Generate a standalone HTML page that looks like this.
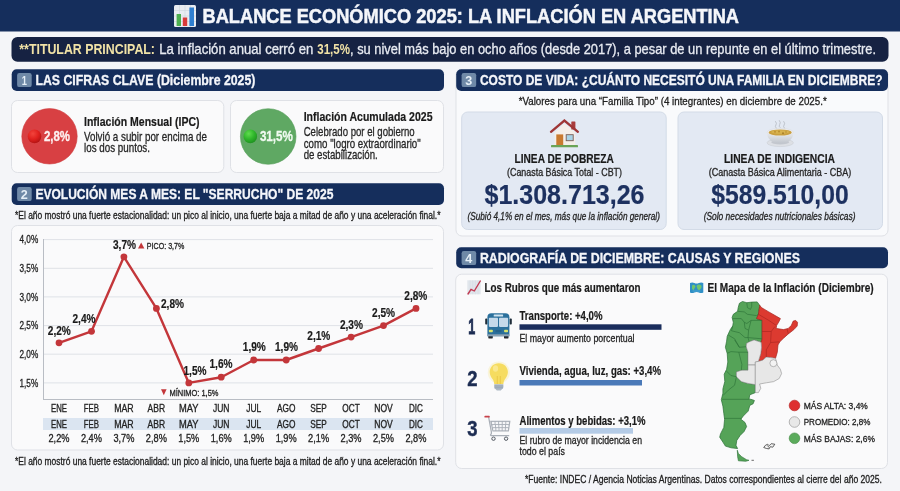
<!DOCTYPE html>
<html lang="es"><head><meta charset="utf-8"><title>Balance Económico 2025: La inflación en Argentina</title>
<style>
html,body{margin:0;padding:0;background:#f4f5f8;}
body{width:900px;height:491px;overflow:hidden;}
svg{display:block;font-family:"Liberation Sans", sans-serif;}
text{font-kerning:normal;}
</style></head><body>
<svg width="900" height="491" viewBox="0 0 900 491">
<rect x="0" y="0" width="900" height="491" fill="#f4f5f8"/>
<rect x="0" y="0" width="900" height="31.5" fill="#152e5c"/>
<g><rect x="174" y="5" width="22" height="22" rx="1.5" fill="#e9edf2"/><path d="M174 10.5h22M174 16h22M174 21.5h22M179.5 5v22M185 5v22M190.5 5v22" stroke="#cfd6de" stroke-width="0.6" fill="none"/><rect x="176.6" y="14" width="4.4" height="12" fill="#4caf50"/><rect x="182.8" y="17.5" width="4.4" height="8.5" fill="#d93a3a"/><rect x="189.4" y="7.5" width="4.6" height="18.5" fill="#2f7fd0"/></g>
<text x="202.5" y="22.8" font-size="20.2" font-weight="bold" fill="#f4f6fa" text-anchor="start" stroke="#f4f6fa" stroke-width="0.5" textLength="536.5" lengthAdjust="spacingAndGlyphs">BALANCE ECONÓMICO 2025: LA INFLACIÓN EN ARGENTINA</text>
<rect x="11.5" y="37" width="877" height="24.7" rx="6" fill="#162242"/>
<text x="19.3" y="54" font-size="14.5" font-weight="bold" fill="#f1e2a6" text-anchor="start" textLength="135.7" lengthAdjust="spacingAndGlyphs">**TITULAR PRINCIPAL:</text>
<text x="159.3" y="54" font-size="14.5" font-weight="normal" fill="#e8ebf2" text-anchor="start" stroke="#e8ebf2" stroke-width=".3" textLength="154" lengthAdjust="spacingAndGlyphs">La inflación anual cerró en</text>
<text x="317.3" y="54" font-size="14.5" font-weight="bold" fill="#f1e2a6" text-anchor="start" textLength="32.7" lengthAdjust="spacingAndGlyphs">31,5%</text>
<text x="350" y="54" font-size="14.5" font-weight="normal" fill="#e8ebf2" text-anchor="start" stroke="#e8ebf2" stroke-width=".3" textLength="526" lengthAdjust="spacingAndGlyphs">, su nivel más bajo en ocho años (desde 2017), a pesar de un repunte en el último trimestre.</text>
<rect x="11.7" y="69.3" width="432.3" height="21.6" rx="5" fill="#152e5c"/>
<rect x="17.1" y="73.1" width="14.6" height="14" rx="2.2" fill="#6f89a7"/>
<text x="24.299999999999997" y="85.0" font-size="12.6" font-weight="bold" fill="#e6eff7" text-anchor="middle" textLength="5.2" lengthAdjust="spacingAndGlyphs">1</text>
<text x="35.4" y="85.3" font-size="14.2" font-weight="bold" fill="#f4f6fa" text-anchor="start" stroke="#f4f6fa" stroke-width="0.3" textLength="220" lengthAdjust="spacingAndGlyphs">LAS CIFRAS CLAVE (Diciembre 2025)</text>
<rect x="11.5" y="100.5" width="212.3" height="72" rx="6" fill="#fafafb" stroke="#dfe1e6" stroke-width="1"/>
<rect x="230.5" y="100.5" width="213" height="72" rx="6" fill="#fafafb" stroke="#dfe1e6" stroke-width="1"/>
<defs><radialGradient id="rb" cx=".38" cy=".3" r=".75"><stop offset="0" stop-color="#f2443c"/><stop offset=".55" stop-color="#e0211e"/><stop offset="1" stop-color="#b01212"/></radialGradient><radialGradient id="gb" cx=".38" cy=".3" r=".75"><stop offset="0" stop-color="#5fdc4e"/><stop offset=".55" stop-color="#2fb62b"/><stop offset="1" stop-color="#1d8f1f"/></radialGradient></defs>
<circle cx="49.500" cy="136.300" r="27.700" fill="#d84043" stroke="#cf3a3d" stroke-width=".6"/>
<circle cx="34.500" cy="136.400" r="6.800" fill="url(#rb)"/>
<text x="43.9" y="140.8" font-size="13.8" font-weight="bold" fill="#fdf0f0" text-anchor="start" textLength="26.1" lengthAdjust="spacingAndGlyphs" stroke="#fdf0f0" stroke-width=".3">2,8%</text>
<text x="84" y="125.5" font-size="13" font-weight="bold" fill="#1a1a1a" text-anchor="start" stroke="#1a1a1a" stroke-width=".2" textLength="115.5" lengthAdjust="spacingAndGlyphs">Inflación Mensual (IPC)</text>
<text x="84" y="140.5" font-size="12.8" font-weight="normal" fill="#262626" text-anchor="start" stroke="#262626" stroke-width=".3" textLength="123" lengthAdjust="spacingAndGlyphs">Volvió a subir por encima de</text>
<text x="84" y="152.4" font-size="12.8" font-weight="normal" fill="#262626" text-anchor="start" stroke="#262626" stroke-width=".3" textLength="66" lengthAdjust="spacingAndGlyphs">los dos puntos.</text>
<circle cx="268.200" cy="136.500" r="27.800" fill="#5fa863" stroke="#579e5b" stroke-width=".6"/>
<circle cx="250.300" cy="136.400" r="6.800" fill="url(#gb)"/>
<text x="259.9" y="140.8" font-size="13.8" font-weight="bold" fill="#f0faf0" text-anchor="start" textLength="33" lengthAdjust="spacingAndGlyphs" stroke="#f0faf0" stroke-width=".3">31,5%</text>
<text x="303.7" y="120.5" font-size="13" font-weight="bold" fill="#1a1a1a" text-anchor="start" stroke="#1a1a1a" stroke-width=".2" textLength="128.8" lengthAdjust="spacingAndGlyphs">Inflación Acumulada 2025</text>
<text x="303.7" y="135.5" font-size="12.8" font-weight="normal" fill="#262626" text-anchor="start" stroke="#262626" stroke-width=".3" textLength="111" lengthAdjust="spacingAndGlyphs">Celebrado por el gobierno</text>
<text x="303.7" y="147.5" font-size="12.8" font-weight="normal" fill="#262626" text-anchor="start" stroke="#262626" stroke-width=".3" textLength="117" lengthAdjust="spacingAndGlyphs">como "logro extraordinario"</text>
<text x="303.7" y="159" font-size="12.8" font-weight="normal" fill="#262626" text-anchor="start" stroke="#262626" stroke-width=".3" textLength="74" lengthAdjust="spacingAndGlyphs">de estabilización.</text>
<rect x="11.7" y="183.3" width="432.3" height="21.7" rx="5" fill="#152e5c"/>
<rect x="17.1" y="187.1" width="14.6" height="14" rx="2.2" fill="#6f89a7"/>
<text x="24.299999999999997" y="199.0" font-size="12.6" font-weight="bold" fill="#e6eff7" text-anchor="middle" textLength="7" lengthAdjust="spacingAndGlyphs">2</text>
<text x="35.4" y="199.3" font-size="14.2" font-weight="bold" fill="#f4f6fa" text-anchor="start" stroke="#f4f6fa" stroke-width="0.3" textLength="298" lengthAdjust="spacingAndGlyphs">EVOLUCIÓN MES A MES: EL "SERRUCHO" DE 2025</text>
<text x="15" y="219" font-size="10.4" font-weight="normal" fill="#202020" text-anchor="start" stroke="#202020" stroke-width=".3" textLength="425.5" lengthAdjust="spacingAndGlyphs">*El año mostró una fuerte estacionalidad: un pico al inicio, una fuerte baja a mitad de año y una aceleración final.*</text>
<rect x="11.5" y="225.5" width="432" height="224.5" rx="6" fill="#fafafb" stroke="#dfe1e6" stroke-width="1"/>
<line x1="43" y1="239.6" x2="433" y2="239.6" stroke="#dfe2e7" stroke-width="1"/>
<text x="19.5" y="243.34999999999997" font-size="10.4" font-weight="normal" fill="#222" text-anchor="start" stroke="#222" stroke-width=".3" textLength="18.7" lengthAdjust="spacingAndGlyphs">4,0%</text>
<line x1="43" y1="268.3" x2="433" y2="268.3" stroke="#dfe2e7" stroke-width="1"/>
<text x="19.5" y="271.99999999999994" font-size="10.4" font-weight="normal" fill="#222" text-anchor="start" stroke="#222" stroke-width=".3" textLength="18.7" lengthAdjust="spacingAndGlyphs">3,5%</text>
<line x1="43" y1="296.9" x2="433" y2="296.9" stroke="#dfe2e7" stroke-width="1"/>
<text x="19.5" y="300.65" font-size="10.4" font-weight="normal" fill="#222" text-anchor="start" stroke="#222" stroke-width=".3" textLength="18.7" lengthAdjust="spacingAndGlyphs">3,0%</text>
<line x1="43" y1="325.6" x2="433" y2="325.6" stroke="#dfe2e7" stroke-width="1"/>
<text x="19.5" y="329.29999999999995" font-size="10.4" font-weight="normal" fill="#222" text-anchor="start" stroke="#222" stroke-width=".3" textLength="18.7" lengthAdjust="spacingAndGlyphs">2,5%</text>
<line x1="43" y1="354.2" x2="433" y2="354.2" stroke="#dfe2e7" stroke-width="1"/>
<text x="19.5" y="357.95" font-size="10.4" font-weight="normal" fill="#222" text-anchor="start" stroke="#222" stroke-width=".3" textLength="18.7" lengthAdjust="spacingAndGlyphs">2,0%</text>
<line x1="43" y1="382.9" x2="433" y2="382.9" stroke="#dfe2e7" stroke-width="1"/>
<text x="19.5" y="386.59999999999997" font-size="10.4" font-weight="normal" fill="#222" text-anchor="start" stroke="#222" stroke-width=".3" textLength="18.7" lengthAdjust="spacingAndGlyphs">1,5%</text>
<line x1="43.5" y1="239" x2="43.5" y2="399.5" stroke="#b9bdc4" stroke-width="1"/>
<line x1="43" y1="399.5" x2="433" y2="399.5" stroke="#b9bdc4" stroke-width="1"/>
<polyline points="59.0,342.8 91.5,331.3 123.9,256.8 156.4,308.4 188.8,382.9 221.2,377.2 253.7,360.0 286.2,360.0 318.6,348.5 351.1,337.1 383.5,325.6 416.0,308.4" fill="none" stroke="#c3363a" stroke-width="2.4" stroke-linejoin="round"/>
<circle cx="59.0" cy="342.8" r="3.4" fill="#c3363a"/>
<circle cx="91.5" cy="331.3" r="3.4" fill="#c3363a"/>
<circle cx="123.9" cy="256.8" r="3.4" fill="#c3363a"/>
<circle cx="156.4" cy="308.4" r="3.4" fill="#c3363a"/>
<circle cx="188.8" cy="382.9" r="3.4" fill="#c3363a"/>
<circle cx="221.2" cy="377.2" r="3.4" fill="#c3363a"/>
<circle cx="253.7" cy="360.0" r="3.4" fill="#c3363a"/>
<circle cx="286.2" cy="360.0" r="3.4" fill="#c3363a"/>
<circle cx="318.6" cy="348.5" r="3.4" fill="#c3363a"/>
<circle cx="351.1" cy="337.1" r="3.4" fill="#c3363a"/>
<circle cx="383.5" cy="325.6" r="3.4" fill="#c3363a"/>
<circle cx="416.0" cy="308.4" r="3.4" fill="#c3363a"/>
<text x="59.3" y="335" font-size="13" font-weight="bold" fill="#1a1a1a" text-anchor="middle" stroke="#1a1a1a" stroke-width=".2" textLength="23" lengthAdjust="spacingAndGlyphs">2,2%</text>
<text x="84" y="323" font-size="13" font-weight="bold" fill="#1a1a1a" text-anchor="middle" stroke="#1a1a1a" stroke-width=".2" textLength="23" lengthAdjust="spacingAndGlyphs">2,4%</text>
<text x="124.5" y="249" font-size="13" font-weight="bold" fill="#1a1a1a" text-anchor="middle" stroke="#1a1a1a" stroke-width=".2" textLength="23" lengthAdjust="spacingAndGlyphs">3,7%</text>
<text x="172.5" y="308" font-size="13" font-weight="bold" fill="#1a1a1a" text-anchor="middle" stroke="#1a1a1a" stroke-width=".2" textLength="23" lengthAdjust="spacingAndGlyphs">2,8%</text>
<text x="195" y="375" font-size="13" font-weight="bold" fill="#1a1a1a" text-anchor="middle" stroke="#1a1a1a" stroke-width=".2" textLength="23" lengthAdjust="spacingAndGlyphs">1,5%</text>
<text x="221" y="368" font-size="13" font-weight="bold" fill="#1a1a1a" text-anchor="middle" stroke="#1a1a1a" stroke-width=".2" textLength="23" lengthAdjust="spacingAndGlyphs">1,6%</text>
<text x="254.3" y="351.4" font-size="13" font-weight="bold" fill="#1a1a1a" text-anchor="middle" stroke="#1a1a1a" stroke-width=".2" textLength="23" lengthAdjust="spacingAndGlyphs">1,9%</text>
<text x="286.5" y="351.4" font-size="13" font-weight="bold" fill="#1a1a1a" text-anchor="middle" stroke="#1a1a1a" stroke-width=".2" textLength="23" lengthAdjust="spacingAndGlyphs">1,9%</text>
<text x="318.8" y="339.6" font-size="13" font-weight="bold" fill="#1a1a1a" text-anchor="middle" stroke="#1a1a1a" stroke-width=".2" textLength="23" lengthAdjust="spacingAndGlyphs">2,1%</text>
<text x="351.4" y="328.7" font-size="13" font-weight="bold" fill="#1a1a1a" text-anchor="middle" stroke="#1a1a1a" stroke-width=".2" textLength="23" lengthAdjust="spacingAndGlyphs">2,3%</text>
<text x="383.6" y="316.6" font-size="13" font-weight="bold" fill="#1a1a1a" text-anchor="middle" stroke="#1a1a1a" stroke-width=".2" textLength="23" lengthAdjust="spacingAndGlyphs">2,5%</text>
<text x="415.8" y="300" font-size="13" font-weight="bold" fill="#1a1a1a" text-anchor="middle" stroke="#1a1a1a" stroke-width=".2" textLength="23" lengthAdjust="spacingAndGlyphs">2,8%</text>
<path d="M138 248.600l3.200-6 3.200 6z" fill="#c3363a"/>
<text x="146.8" y="249" font-size="9" font-weight="normal" fill="#222" text-anchor="start" stroke="#222" stroke-width=".3" textLength="37.6" lengthAdjust="spacingAndGlyphs">PICO: 3,7%</text>
<path d="M161 389.2l2.800 6 2.800-6z" fill="#c3363a"/>
<text x="169.5" y="395.6" font-size="9" font-weight="normal" fill="#222" text-anchor="start" stroke="#222" stroke-width=".3" textLength="49" lengthAdjust="spacingAndGlyphs">MÍNIMO: 1,5%</text>
<rect x="43" y="418" width="390" height="12" fill="#dbe5f1"/>
<text x="59.0" y="412.4" font-size="10.2" font-weight="normal" fill="#222" text-anchor="middle" stroke="#222" stroke-width=".3" textLength="16" lengthAdjust="spacingAndGlyphs">ENE</text>
<text x="59.0" y="427.5" font-size="10.2" font-weight="normal" fill="#222" text-anchor="middle" stroke="#222" stroke-width=".3" textLength="16" lengthAdjust="spacingAndGlyphs">ENE</text>
<text x="59.0" y="442" font-size="10.6" font-weight="normal" fill="#222" text-anchor="middle" stroke="#222" stroke-width=".3" textLength="21" lengthAdjust="spacingAndGlyphs">2,2%</text>
<text x="91.45" y="412.4" font-size="10.2" font-weight="normal" fill="#222" text-anchor="middle" stroke="#222" stroke-width=".3" textLength="15.3" lengthAdjust="spacingAndGlyphs">FEB</text>
<text x="91.45" y="427.5" font-size="10.2" font-weight="normal" fill="#222" text-anchor="middle" stroke="#222" stroke-width=".3" textLength="15.3" lengthAdjust="spacingAndGlyphs">FEB</text>
<text x="91.45" y="442" font-size="10.6" font-weight="normal" fill="#222" text-anchor="middle" stroke="#222" stroke-width=".3" textLength="21" lengthAdjust="spacingAndGlyphs">2,4%</text>
<text x="123.9" y="412.4" font-size="10.2" font-weight="normal" fill="#222" text-anchor="middle" stroke="#222" stroke-width=".3" textLength="19.5" lengthAdjust="spacingAndGlyphs">MAR</text>
<text x="123.9" y="427.5" font-size="10.2" font-weight="normal" fill="#222" text-anchor="middle" stroke="#222" stroke-width=".3" textLength="19.5" lengthAdjust="spacingAndGlyphs">MAR</text>
<text x="123.9" y="442" font-size="10.6" font-weight="normal" fill="#222" text-anchor="middle" stroke="#222" stroke-width=".3" textLength="21" lengthAdjust="spacingAndGlyphs">3,7%</text>
<text x="156.35000000000002" y="412.4" font-size="10.2" font-weight="normal" fill="#222" text-anchor="middle" stroke="#222" stroke-width=".3" textLength="17.5" lengthAdjust="spacingAndGlyphs">ABR</text>
<text x="156.35000000000002" y="427.5" font-size="10.2" font-weight="normal" fill="#222" text-anchor="middle" stroke="#222" stroke-width=".3" textLength="17.5" lengthAdjust="spacingAndGlyphs">ABR</text>
<text x="156.35000000000002" y="442" font-size="10.6" font-weight="normal" fill="#222" text-anchor="middle" stroke="#222" stroke-width=".3" textLength="21" lengthAdjust="spacingAndGlyphs">2,8%</text>
<text x="188.8" y="412.4" font-size="10.2" font-weight="normal" fill="#222" text-anchor="middle" stroke="#222" stroke-width=".3" textLength="19.5" lengthAdjust="spacingAndGlyphs">MAY</text>
<text x="188.8" y="427.5" font-size="10.2" font-weight="normal" fill="#222" text-anchor="middle" stroke="#222" stroke-width=".3" textLength="19.5" lengthAdjust="spacingAndGlyphs">MAY</text>
<text x="188.8" y="442" font-size="10.6" font-weight="normal" fill="#222" text-anchor="middle" stroke="#222" stroke-width=".3" textLength="21" lengthAdjust="spacingAndGlyphs">1,5%</text>
<text x="221.25" y="412.4" font-size="10.2" font-weight="normal" fill="#222" text-anchor="middle" stroke="#222" stroke-width=".3" textLength="16.5" lengthAdjust="spacingAndGlyphs">JUN</text>
<text x="221.25" y="427.5" font-size="10.2" font-weight="normal" fill="#222" text-anchor="middle" stroke="#222" stroke-width=".3" textLength="16.5" lengthAdjust="spacingAndGlyphs">JUN</text>
<text x="221.25" y="442" font-size="10.6" font-weight="normal" fill="#222" text-anchor="middle" stroke="#222" stroke-width=".3" textLength="21" lengthAdjust="spacingAndGlyphs">1,6%</text>
<text x="253.70000000000002" y="412.4" font-size="10.2" font-weight="normal" fill="#222" text-anchor="middle" stroke="#222" stroke-width=".3" textLength="15" lengthAdjust="spacingAndGlyphs">JUL</text>
<text x="253.70000000000002" y="427.5" font-size="10.2" font-weight="normal" fill="#222" text-anchor="middle" stroke="#222" stroke-width=".3" textLength="15" lengthAdjust="spacingAndGlyphs">JUL</text>
<text x="253.70000000000002" y="442" font-size="10.6" font-weight="normal" fill="#222" text-anchor="middle" stroke="#222" stroke-width=".3" textLength="21" lengthAdjust="spacingAndGlyphs">1,9%</text>
<text x="286.15000000000003" y="412.4" font-size="10.2" font-weight="normal" fill="#222" text-anchor="middle" stroke="#222" stroke-width=".3" textLength="18.5" lengthAdjust="spacingAndGlyphs">AGO</text>
<text x="286.15000000000003" y="427.5" font-size="10.2" font-weight="normal" fill="#222" text-anchor="middle" stroke="#222" stroke-width=".3" textLength="18.5" lengthAdjust="spacingAndGlyphs">AGO</text>
<text x="286.15000000000003" y="442" font-size="10.6" font-weight="normal" fill="#222" text-anchor="middle" stroke="#222" stroke-width=".3" textLength="21" lengthAdjust="spacingAndGlyphs">1,9%</text>
<text x="318.6" y="412.4" font-size="10.2" font-weight="normal" fill="#222" text-anchor="middle" stroke="#222" stroke-width=".3" textLength="16.5" lengthAdjust="spacingAndGlyphs">SEP</text>
<text x="318.6" y="427.5" font-size="10.2" font-weight="normal" fill="#222" text-anchor="middle" stroke="#222" stroke-width=".3" textLength="16.5" lengthAdjust="spacingAndGlyphs">SEP</text>
<text x="318.6" y="442" font-size="10.6" font-weight="normal" fill="#222" text-anchor="middle" stroke="#222" stroke-width=".3" textLength="21" lengthAdjust="spacingAndGlyphs">2,1%</text>
<text x="351.05" y="412.4" font-size="10.2" font-weight="normal" fill="#222" text-anchor="middle" stroke="#222" stroke-width=".3" textLength="17.5" lengthAdjust="spacingAndGlyphs">OCT</text>
<text x="351.05" y="427.5" font-size="10.2" font-weight="normal" fill="#222" text-anchor="middle" stroke="#222" stroke-width=".3" textLength="17.5" lengthAdjust="spacingAndGlyphs">OCT</text>
<text x="351.05" y="442" font-size="10.6" font-weight="normal" fill="#222" text-anchor="middle" stroke="#222" stroke-width=".3" textLength="21" lengthAdjust="spacingAndGlyphs">2,3%</text>
<text x="383.5" y="412.4" font-size="10.2" font-weight="normal" fill="#222" text-anchor="middle" stroke="#222" stroke-width=".3" textLength="18.5" lengthAdjust="spacingAndGlyphs">NOV</text>
<text x="383.5" y="427.5" font-size="10.2" font-weight="normal" fill="#222" text-anchor="middle" stroke="#222" stroke-width=".3" textLength="18.5" lengthAdjust="spacingAndGlyphs">NOV</text>
<text x="383.5" y="442" font-size="10.6" font-weight="normal" fill="#222" text-anchor="middle" stroke="#222" stroke-width=".3" textLength="21" lengthAdjust="spacingAndGlyphs">2,5%</text>
<text x="415.95000000000005" y="412.4" font-size="10.2" font-weight="normal" fill="#222" text-anchor="middle" stroke="#222" stroke-width=".3" textLength="14" lengthAdjust="spacingAndGlyphs">DIC</text>
<text x="415.95000000000005" y="427.5" font-size="10.2" font-weight="normal" fill="#222" text-anchor="middle" stroke="#222" stroke-width=".3" textLength="14" lengthAdjust="spacingAndGlyphs">DIC</text>
<text x="415.95000000000005" y="442" font-size="10.6" font-weight="normal" fill="#222" text-anchor="middle" stroke="#222" stroke-width=".3" textLength="21" lengthAdjust="spacingAndGlyphs">2,8%</text>
<text x="15" y="464.5" font-size="10.4" font-weight="normal" fill="#202020" text-anchor="start" stroke="#202020" stroke-width=".3" textLength="425.5" lengthAdjust="spacingAndGlyphs">*El año mostró una fuerte estacionalidad: un pico al inicio, una fuerte baja a mitad de año y una aceleración final.*</text>
<rect x="456" y="69.5" width="432" height="166.5" rx="6" fill="#f9fafc" stroke="#dfe1e6" stroke-width="1"/>
<rect x="456.2" y="69.3" width="431.8" height="21.6" rx="5" fill="#152e5c"/>
<rect x="461.6" y="73.1" width="14.6" height="14" rx="2.2" fill="#6f89a7"/>
<text x="468.8" y="85.0" font-size="12.6" font-weight="bold" fill="#e6eff7" text-anchor="middle" textLength="7" lengthAdjust="spacingAndGlyphs">3</text>
<text x="479.9" y="85.3" font-size="14.2" font-weight="bold" fill="#f4f6fa" text-anchor="start" stroke="#f4f6fa" stroke-width="0.3" textLength="402.6" lengthAdjust="spacingAndGlyphs">COSTO DE VIDA: ¿CUÁNTO NECESITÓ UNA FAMILIA EN DICIEMBRE?</text>
<text x="518.7" y="105.1" font-size="11.4" font-weight="normal" fill="#202020" text-anchor="start" stroke="#202020" stroke-width=".3" textLength="308" lengthAdjust="spacingAndGlyphs">*Valores para una “Familia Tipo” (4 integrantes) en diciembre de 2025.*</text>
<rect x="461.7" y="112" width="204.5" height="117.5" rx="6" fill="#e3e9f3" stroke="#d3dbe7" stroke-width="1"/>
<rect x="678" y="112" width="204.5" height="117.5" rx="6" fill="#e3e9f3" stroke="#d3dbe7" stroke-width="1"/>
<g><path d="M554.6 145.200V132.500L564.400 123.600 575.200 132.500V145.200z" fill="#f5eee8"/><rect x="571.300" y="121.600" width="4.100" height="8" rx=".5" fill="#a83c3c"/><path d="M551 131.800L564.400 120.600l13.500 11.200" fill="none" stroke="#9f3636" stroke-width="2.300" stroke-linecap="round" stroke-linejoin="miter"/><rect x="556.300" y="134.400" width="6.900" height="10.800" fill="#c97a30"/><rect x="566.200" y="134.700" width="7" height="6" fill="#a9d3e6" stroke="#7a5d55" stroke-width=".9"/><rect x="551" y="145" width="27" height="2.300" rx=".6" fill="#6ba457"/></g>
<text x="564.2" y="163.3" font-size="12.2" font-weight="bold" fill="#1a1a1a" text-anchor="middle" stroke="#1a1a1a" stroke-width=".2" textLength="99.3" lengthAdjust="spacingAndGlyphs">LINEA DE POBREZA</text>
<text x="564.5" y="175.5" font-size="10.4" font-weight="normal" fill="#262626" text-anchor="middle" stroke="#262626" stroke-width=".3" textLength="115" lengthAdjust="spacingAndGlyphs">(Canasta Básica Total - CBT)</text>
<text x="564.5" y="203.8" font-size="27.4" font-weight="bold" fill="#1d3160" text-anchor="middle" stroke="#1d3160" stroke-width=".2" textLength="160" lengthAdjust="spacingAndGlyphs">$1.308.713,26</text>
<text x="563.7" y="219.9" font-size="10.6" font-weight="normal" fill="#262626" text-anchor="middle" font-style="italic" stroke="#262626" stroke-width=".3" textLength="192.5" lengthAdjust="spacingAndGlyphs">(Subió 4,1% en el mes, más que la inflación general)</text>
<defs><linearGradient id="bowlg" x1="0" y1="0" x2="0" y2="1"><stop offset="0" stop-color="#eceef1"/><stop offset="1" stop-color="#bfc4cb"/></linearGradient></defs><g><ellipse cx="780.200" cy="142.800" rx="13.200" ry="3.800" fill="#dde0e5" stroke="#c6cad1" stroke-width=".5"/><ellipse cx="780.200" cy="142.300" rx="9" ry="2.200" fill="#c3c7ce"/><path d="M767 132.300c0 7.500 5.800 11.200 13.200 11.200s13.200-3.700 13.200-11.200z" fill="url(#bowlg)"/><ellipse cx="780.200" cy="132.300" rx="13.200" ry="4" fill="#ecedf0" stroke="#d6d9de" stroke-width=".5"/><ellipse cx="780.200" cy="132.500" rx="11.600" ry="3.100" fill="#caa040"/><ellipse cx="780.200" cy="132" rx="9" ry="1.800" fill="#d8b24e"/><circle cx="775" cy="131.800" r=".9" fill="#b78a2c"/><circle cx="779" cy="131.500" r=".9" fill="#b78a2c"/><circle cx="783" cy="133.300" r="1" fill="#a97f2a"/><circle cx="786" cy="132" r=".8" fill="#b78a2c"/><path d="M775.600 121.500q1.600 2 .3 3.500t.2 3M779.400 120.500q1.700 2.200 .3 4t.3 3M783.800 121.500q1.600 2 .3 3.500t.2 3" stroke="#b4b9c1" stroke-width=".8" fill="none" stroke-linecap="round"/></g>
<text x="779.5" y="163.3" font-size="12.2" font-weight="bold" fill="#1a1a1a" text-anchor="middle" stroke="#1a1a1a" stroke-width=".2" textLength="111" lengthAdjust="spacingAndGlyphs">LINEA DE INDIGENCIA</text>
<text x="780" y="175.5" font-size="10.4" font-weight="normal" fill="#262626" text-anchor="middle" stroke="#262626" stroke-width=".3" textLength="142.3" lengthAdjust="spacingAndGlyphs">(Canasta Básica Alimentaria - CBA)</text>
<text x="780" y="203.8" font-size="27.4" font-weight="bold" fill="#1d3160" text-anchor="middle" stroke="#1d3160" stroke-width=".2" textLength="137.5" lengthAdjust="spacingAndGlyphs">$589.510,00</text>
<text x="779.6" y="219.9" font-size="10.6" font-weight="normal" fill="#262626" text-anchor="middle" font-style="italic" stroke="#262626" stroke-width=".3" textLength="151.8" lengthAdjust="spacingAndGlyphs">(Solo necesidades nutricionales básicas)</text>
<rect x="456.2" y="247.3" width="431.8" height="21" rx="5" fill="#152e5c"/>
<rect x="461.6" y="251.1" width="14.6" height="14" rx="2.2" fill="#6f89a7"/>
<text x="468.8" y="263.0" font-size="12.6" font-weight="bold" fill="#e6eff7" text-anchor="middle" textLength="7" lengthAdjust="spacingAndGlyphs">4</text>
<text x="479.9" y="263.3" font-size="14.2" font-weight="bold" fill="#f4f6fa" text-anchor="start" stroke="#f4f6fa" stroke-width="0.3" textLength="320" lengthAdjust="spacingAndGlyphs">RADIOGRAFÍA DE DICIEMBRE: CAUSAS Y REGIONES</text>
<rect x="455.7" y="274.2" width="431.8" height="194.3" rx="6" fill="#fafafb" stroke="#dfe1e6" stroke-width="1"/>
<g><rect x="467.300" y="280.300" width="13.400" height="14" fill="#e1e6ec"/><path d="M470 280.300v14M472.700 280.300v14M475.400 280.300v14M478.100 280.300v14" stroke="#d3d9e1" stroke-width=".5"/><path d="M468 294l3-4.700 3.300 1.700 6-10" fill="none" stroke="#c23a52" stroke-width="1.400" stroke-linejoin="round" stroke-linecap="round"/></g>
<text x="484.5" y="292" font-size="12" font-weight="bold" fill="#1a1a1a" text-anchor="start" stroke="#1a1a1a" stroke-width=".2" textLength="156" lengthAdjust="spacingAndGlyphs">Los Rubros que más aumentaron</text>
<text x="471.8" y="333.7" font-size="21.3" font-weight="bold" fill="#1c2c52" text-anchor="middle" textLength="7" lengthAdjust="spacingAndGlyphs" stroke="#1c2c52" stroke-width=".8">1</text>
<text x="472.4" y="385.6" font-size="21.3" font-weight="bold" fill="#1c2c52" text-anchor="middle" textLength="10.3" lengthAdjust="spacingAndGlyphs" stroke="#1c2c52" stroke-width=".4">2</text>
<text x="472.4" y="435.6" font-size="21.3" font-weight="bold" fill="#1c2c52" text-anchor="middle" textLength="10.3" lengthAdjust="spacingAndGlyphs" stroke="#1c2c52" stroke-width=".4">3</text>
<g><rect x="485.200" y="318.600" width="2.200" height="6" rx=".8" fill="#1f2d3a"/><rect x="509.600" y="318.600" width="2.200" height="6" rx=".8" fill="#1f2d3a"/><rect x="488.300" y="333" width="4.500" height="5.600" rx="1.200" fill="#23272e"/><rect x="504" y="333" width="4.500" height="5.600" rx="1.200" fill="#23272e"/><path d="M487.400 317.200q0-4 4-4h14q4 0 4 4v19h-22z" fill="#2b709c"/><rect x="487.400" y="334.300" width="22" height="1.900" fill="#8fa3b3"/><rect x="493.700" y="314.600" width="9.400" height="1.900" rx=".5" fill="#cfe3f0"/><rect x="488.900" y="317.700" width="9.100" height="9.200" rx=".8" fill="#c5d9ea"/><rect x="499" y="317.700" width="9.100" height="9.200" rx=".8" fill="#c5d9ea"/><rect x="488.900" y="329.800" width="3.900" height="2.500" rx=".8" fill="#d9e56e"/><rect x="504.100" y="329.800" width="3.900" height="2.500" rx=".8" fill="#d9e56e"/><rect x="495.500" y="330" width="6" height="2.200" fill="#25628a"/></g>
<text x="519.5" y="319.5" font-size="12" font-weight="bold" fill="#1a1a1a" text-anchor="start" stroke="#1a1a1a" stroke-width=".2" textLength="83" lengthAdjust="spacingAndGlyphs">Transporte: +4,0%</text>
<rect x="519.500" y="324.300" width="142" height="5.500" fill="#1a2d5c"/>
<text x="519.5" y="342.2" font-size="10.4" font-weight="normal" fill="#262626" text-anchor="start" stroke="#262626" stroke-width=".3" textLength="115" lengthAdjust="spacingAndGlyphs">El mayor aumento porcentual</text>
<g><circle cx="498.800" cy="372.500" r="11" fill="#f7e27a" opacity=".25"/><path d="M498.800 363.200c-5.400 0-9.100 4-9.100 8.800 0 3.400 1.700 5.400 3.100 7.600 .9 1.400 1.300 2.800 1.400 4.600h9.200c.1-1.800 .5-3.200 1.400-4.600 1.400-2.200 3.100-4.200 3.100-7.600 0-4.800-3.700-8.800-9.100-8.800z" fill="#f6dc60"/><ellipse cx="495.500" cy="368.500" rx="2.600" ry="3.200" fill="#fbeb9a" opacity=".8"/><path d="M497.300 384v-8M500.300 384v-8" stroke="#e6c443" stroke-width=".8" fill="none"/><path d="M494.300 384.200h9v3.200q0 1.200-1.200 1.600l-1.300 1.400h-4l-1.300-1.400q-1.200-.4-1.200-1.600z" fill="#aeb9c6"/><path d="M494.300 386h9M494.600 387.800h8.400" stroke="#8797a8" stroke-width=".6"/></g>
<text x="519.5" y="375" font-size="12" font-weight="bold" fill="#1a1a1a" text-anchor="start" stroke="#1a1a1a" stroke-width=".2" textLength="141.5" lengthAdjust="spacingAndGlyphs">Vivienda, agua, luz, gas: +3,4%</text>
<rect x="519.500" y="380" width="122.500" height="5.500" fill="#4a79b8"/>
<g><path d="M490.100 420.800h20.400l-1.600 10.700h-16.400z" fill="#a9afb7"/><rect x="491.92" y="421.90" width="2.68" height="2.2" fill="#f5f6f8"/><rect x="495.50" y="421.90" width="2.68" height="2.2" fill="#f5f6f8"/><rect x="499.08" y="421.90" width="2.68" height="2.2" fill="#f5f6f8"/><rect x="502.66" y="421.90" width="2.68" height="2.2" fill="#f5f6f8"/><rect x="506.24" y="421.90" width="2.68" height="2.2" fill="#f5f6f8"/><rect x="492.53" y="425.00" width="2.47" height="2.2" fill="#f5f6f8"/><rect x="495.89" y="425.00" width="2.47" height="2.2" fill="#f5f6f8"/><rect x="499.26" y="425.00" width="2.47" height="2.2" fill="#f5f6f8"/><rect x="502.63" y="425.00" width="2.47" height="2.2" fill="#f5f6f8"/><rect x="506.00" y="425.00" width="2.47" height="2.2" fill="#f5f6f8"/><rect x="493.13" y="428.10" width="2.26" height="2.2" fill="#f5f6f8"/><rect x="496.29" y="428.10" width="2.26" height="2.2" fill="#f5f6f8"/><rect x="499.44" y="428.10" width="2.26" height="2.2" fill="#f5f6f8"/><rect x="502.60" y="428.10" width="2.26" height="2.2" fill="#f5f6f8"/><rect x="505.76" y="428.10" width="2.26" height="2.2" fill="#f5f6f8"/><path d="M488.700 417.500l2.700 14.500q.2 1.700-.6 2.400t.4 1.300h17.500" fill="none" stroke="#a9afb7" stroke-width="1.300" stroke-linecap="round" stroke-linejoin="round"/><circle cx="493.500" cy="438.700" r="1.700" fill="#f5f6f8" stroke="#555b63" stroke-width="1"/><circle cx="506.100" cy="438.700" r="1.700" fill="#f5f6f8" stroke="#555b63" stroke-width="1"/><path d="M485.200 416.700h3.800" stroke="#c8414a" stroke-width="1.700" stroke-linecap="round"/></g>
<text x="519.5" y="424.5" font-size="12" font-weight="bold" fill="#1a1a1a" text-anchor="start" stroke="#1a1a1a" stroke-width=".2" textLength="126" lengthAdjust="spacingAndGlyphs">Alimentos y bebidas: +3,1%</text>
<rect x="519.500" y="428" width="113.500" height="5.700" fill="#b4cbe6"/>
<text x="519.5" y="444.3" font-size="10.4" font-weight="normal" fill="#262626" text-anchor="start" stroke="#262626" stroke-width=".3" textLength="122.5" lengthAdjust="spacingAndGlyphs">El rubro de mayor incidencia en</text>
<text x="519.5" y="454.5" font-size="10.4" font-weight="normal" fill="#262626" text-anchor="start" stroke="#262626" stroke-width=".3" textLength="45.5" lengthAdjust="spacingAndGlyphs">todo el país</text>
<g><path d="M690 283q2.200-1.200 4.400 0t4.500 0 4.400 0v9.500q-2.200 1.200-4.400 0t-4.500 0-4.400 0z" fill="#2f8fc6"/><path d="M692 285.500q1.500-1.200 2.800-.3t.3 2.300-1.400 2.400-1.700-1.400zM696.500 286q1.500-1.800 3.500-1.300t1.600 2.300-1.800 2.700-2.300-.7z" fill="#6fc56e"/><path d="M692.500 291h8" stroke="#58b7d8" stroke-width=".6"/></g>
<text x="707.5" y="292" font-size="12" font-weight="bold" fill="#1a1a1a" text-anchor="start" stroke="#1a1a1a" stroke-width=".2" textLength="166.2" lengthAdjust="spacingAndGlyphs">El Mapa de la Inflación (Diciembre)</text>
<g><path d="M739.4 303.3 L738.2 307.6 L737.6 311.3 L733.3 314.3 L732.1 317.4 L733.3 322.3 L732.7 326.0 L730.3 329.6 L727.2 336.3 L726.6 341.2 L725.4 347.3 L727.2 353.4 L727.8 362.0 L726.6 369.3 L724.2 374.2 L724.8 381.6 L722.9 388.9 L722.9 393.2 L721.3 399.7 L722.9 406.2 L723.8 413.5 L724.6 419.2 L723.8 427.4 L720.5 433.9 L719.7 437.2 L722.9 442.1 L725.4 446.1 L731.1 447.8 L737.6 448.6 L736.0 445.3 L736.8 440.4 L740.1 435.5 L744.1 431.5 L746.6 426.6 L745.0 422.5 L740.9 419.2 L743.3 416.0 L748.2 411.1 L749.8 405.4 L753.1 403.8 L754.4 400.5 L752.3 399.7 L749.0 398.9 L749.8 394.8 L753.9 393.2 L755.3 392.6 L755.3 384.6 L748.0 383.4 L741.3 381.6 L736.4 376.7 L736.4 372.0 L741.3 370.3 L748.0 370.2 L748.0 365.0 L748.0 352.2 L746.2 346.7 L746.5 343.5 L749.2 341.8 L754.1 340.0 L759.6 341.8 L761.2 342.5 L762.1 338.8 L762.1 320.4 L756.6 318.6 L758.4 314.3 L759.6 306.4 L759.6 305.2 L757.2 301.9 L751.7 302.1 L746.8 302.7 L742.5 301.5Z" fill="#55a358" stroke="#2a6f35" stroke-width=".7" stroke-linejoin="round"/>
<path d="M737.3 450.2 L738.4 453.5 L741.7 456.7 L746.6 459.7 L749.0 460.3 L745.8 461.3 L738.4 460.8 L737.6 456.7Z" fill="#55a358" stroke="#2a6f35" stroke-width=".6" stroke-linejoin="round"/>
<path d="M759.6 305.2 L761.5 307.6 L768.8 311.9 L780.4 318.6 L778.6 322.3 L776.7 325.3 L776.1 328.4 L783.5 329.6 L788.3 328.4 L791.4 325.3 L793.2 321.1 L795.7 320.4 L797.5 322.3 L797.2 326.0 L793.9 329.6 L788.3 333.9 L783.5 338.2 L779.8 341.8 L778.0 344.9 L777.3 352.2 L775.5 358.3 L770.5 357.6 L766.3 357.1 L762.7 360.2 L758.4 361.4 L760.8 353.4 L761.5 347.3 L761.2 342.5 L762.1 338.8 L762.1 320.4 L756.6 318.6 L758.4 314.3 L759.6 306.4Z" fill="#dc3a30" stroke="#a5241f" stroke-width=".7" stroke-linejoin="round"/>
<path d="M746.5 343.5 L749.2 341.8 L754.1 340.0 L759.6 341.8 L761.2 342.5 L761.5 347.3 L760.8 353.4 L758.4 361.4 L755.3 362.0 L755.3 365.0 L748.0 365.0 L748.0 352.2 L746.2 346.7Z" fill="#e7e7e7" stroke="#8f8f8f" stroke-width=".6" stroke-linejoin="round"/>
<path d="M736.4 372.0 L741.3 370.3 L748.0 370.2 L748.0 365.0 L755.3 365.0 L755.3 384.6 L748.0 383.4 L741.3 381.6 L736.4 376.7Z" fill="#e7e7e7" stroke="#8f8f8f" stroke-width=".6" stroke-linejoin="round"/>
<path d="M755.3 362.0 L758.4 361.4 L762.7 360.2 L766.3 357.1 L770.5 357.6 L775.5 358.3 L777.3 365.1 L780.4 369.3 L781.6 373.6 L779.2 378.5 L773.7 381.6 L766.3 382.8 L759.6 384.0 L760.8 388.3 L758.4 392.6 L755.3 392.6Z" fill="#e7e7e7" stroke="#8f8f8f" stroke-width=".6" stroke-linejoin="round"/>
<circle cx="773.4" cy="363.2" r="3.5" fill="#f3f3f3" stroke="#8f8f8f" stroke-width=".6"/>
<path d="M746.8 302.7 L747.4 307.6 L750.5 309.4 L751.7 306.4 L751.7 302.1" fill="none" stroke="#2a6f35" stroke-width="0.6" stroke-linejoin="round"/>
<path d="M737.6 311.3 L744.3 311.9 L747.4 314.3 L756.6 315.6 L758.4 314.3" fill="none" stroke="#2a6f35" stroke-width="0.6" stroke-linejoin="round"/>
<path d="M732.7 318.6 L741.3 318.6 L744.3 322.3 L746.8 323.5 L751.1 320.4 L762.1 320.4" fill="none" stroke="#2a6f35" stroke-width="0.6" stroke-linejoin="round"/>
<path d="M751.1 320.4 L748.6 330.2 L748.0 337.6 L762.1 338.8" fill="none" stroke="#2a6f35" stroke-width="0.6" stroke-linejoin="round"/>
<path d="M744.3 322.3 L745.0 328.4 L748.6 330.2" fill="none" stroke="#2a6f35" stroke-width="0.6" stroke-linejoin="round"/>
<path d="M732.7 326.0 L731.5 330.8 L739.4 332.7 L745.0 337.6 L748.0 337.6 L749.2 341.8" fill="none" stroke="#2a6f35" stroke-width="0.6" stroke-linejoin="round"/>
<path d="M728.4 335.1 L734.6 338.8 L739.4 347.3 L746.2 346.7" fill="none" stroke="#2a6f35" stroke-width="0.6" stroke-linejoin="round"/>
<path d="M727.2 353.4 L730.9 351.6 L738.8 352.2 L748.0 352.2" fill="none" stroke="#2a6f35" stroke-width="0.6" stroke-linejoin="round"/>
<path d="M738.8 352.2 L741.9 364.4 L741.3 370.3" fill="none" stroke="#2a6f35" stroke-width="0.6" stroke-linejoin="round"/>
<path d="M734.6 340.0 L739.4 347.3" fill="none" stroke="#2a6f35" stroke-width="0.6" stroke-linejoin="round"/>
<path d="M726.6 371.2 L730.9 375.5 L736.4 376.7" fill="none" stroke="#2a6f35" stroke-width="0.6" stroke-linejoin="round"/>
<path d="M736.4 376.7 L734.6 385.2 L728.4 390.1 L722.9 395.6" fill="none" stroke="#2a6f35" stroke-width="0.6" stroke-linejoin="round"/>
<path d="M722.1 399.3 L749.0 399.3" fill="none" stroke="#2a6f35" stroke-width="0.6" stroke-linejoin="round"/>
<path d="M724.2 418.4 L741.2 418.4" fill="none" stroke="#2a6f35" stroke-width="0.6" stroke-linejoin="round"/>
<path d="M758.4 314.3 L768.8 320.4 L776.1 325.3" fill="none" stroke="#a5241f" stroke-width="0.6" stroke-linejoin="round"/>
<path d="M762.1 331.5 L771.2 331.5 L774.9 326.6" fill="none" stroke="#a5241f" stroke-width="0.6" stroke-linejoin="round"/>
<path d="M771.2 331.5 L770.6 342.5 L766.3 349.8 L766.3 357.1" fill="none" stroke="#a5241f" stroke-width="0.6" stroke-linejoin="round"/>
<path d="M787.1 329.0 L788.3 333.9" fill="none" stroke="#a5241f" stroke-width="0.6" stroke-linejoin="round"/>
<path d="M770.6 342.5 L779.8 341.8" fill="none" stroke="#a5241f" stroke-width="0.6" stroke-linejoin="round"/>
<path d="M763.700 447.500q1.500-2.800 4-3.300l1.500 1.500 2-2 3.600 .5-2 3-2.500-.5-1.200 2.200-2.600-.4zM767.500 445.500l1.500 2" fill="#f2f2f2" stroke="#333" stroke-width=".75" stroke-linejoin="round"/>
<path d="M751.5 460.3 L753.9 460.3" fill="none" stroke="#444" stroke-width="0.8" stroke-linejoin="round"/></g>
<circle cx="794.500" cy="405.5" r="5.300" fill="#de2f2f" stroke="#b82a2a" stroke-width=".7"/>
<text x="803.7" y="408.9" font-size="9.9" font-weight="normal" fill="#202020" text-anchor="start" stroke="#202020" stroke-width=".3" textLength="64.2" lengthAdjust="spacingAndGlyphs">MÁS ALTA: 3,4%</text>
<circle cx="794.500" cy="422" r="5.300" fill="#e8e8e8" stroke="#9a9a9a" stroke-width=".7"/>
<text x="803.7" y="425.2" font-size="9.9" font-weight="normal" fill="#202020" text-anchor="start" stroke="#202020" stroke-width=".3" textLength="66.7" lengthAdjust="spacingAndGlyphs">PROMEDIO: 2,8%</text>
<circle cx="794.500" cy="438.3" r="5.300" fill="#5bab5c" stroke="#4a8f4b" stroke-width=".7"/>
<text x="803.7" y="441.8" font-size="9.9" font-weight="normal" fill="#202020" text-anchor="start" stroke="#202020" stroke-width=".3" textLength="71.2" lengthAdjust="spacingAndGlyphs">MÁS BAJAS: 2,6%</text>
<text x="525" y="482.7" font-size="10.4" font-weight="normal" fill="#202020" text-anchor="start" stroke="#202020" stroke-width=".3" textLength="357" lengthAdjust="spacingAndGlyphs">*Fuente: INDEC / Agencia Noticias Argentinas. Datos correspondientes al cierre del año 2025.</text>
</svg>
</body></html>
